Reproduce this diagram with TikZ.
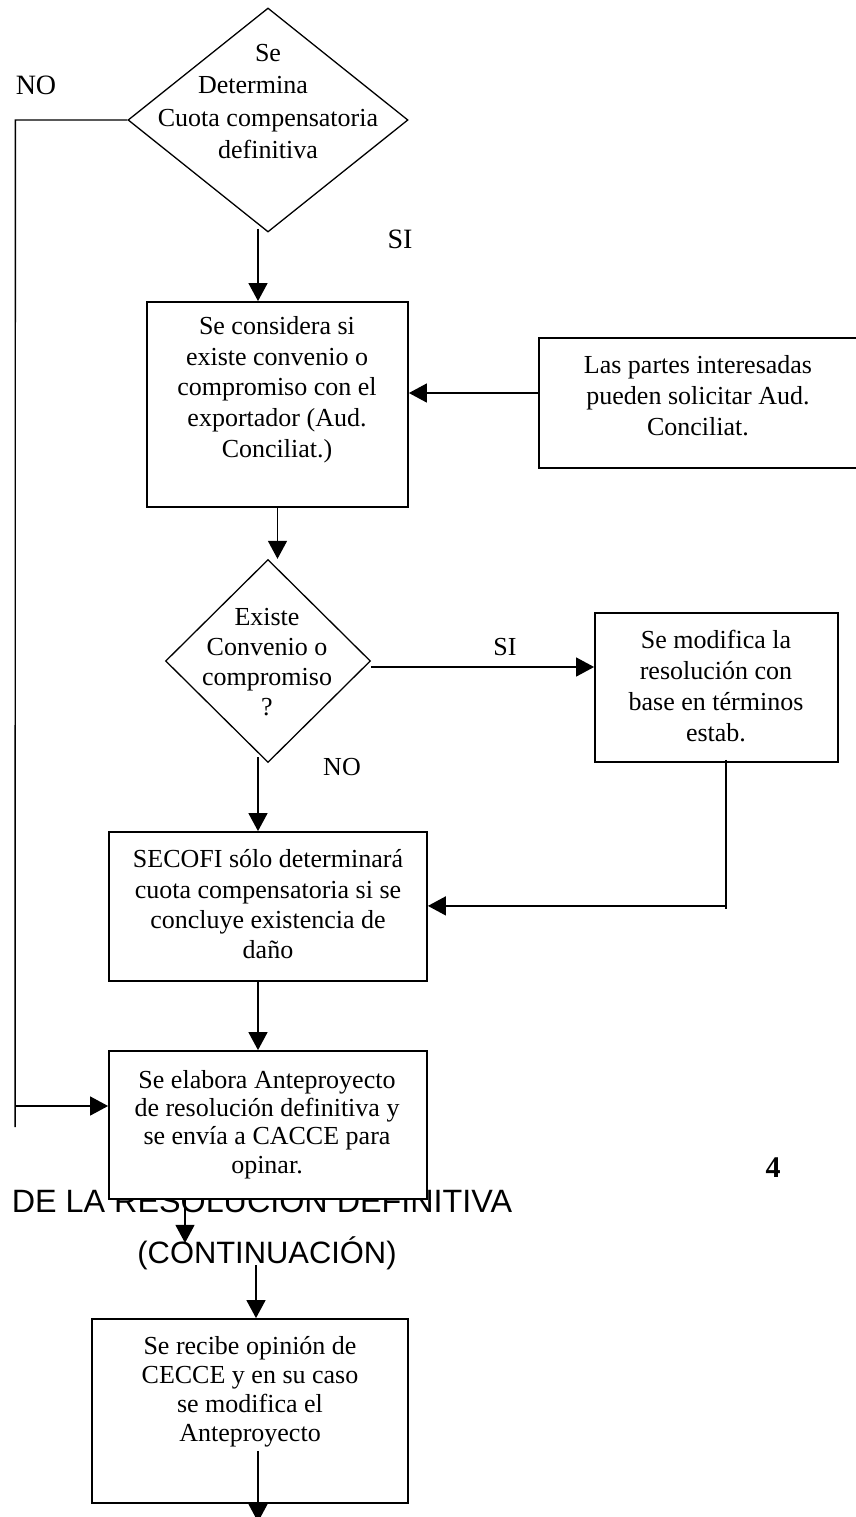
\documentclass[tikz,border=0pt]{standalone}
\usepackage{fontspec}
\setmainfont{Liberation Serif}
\newfontfamily\headfont{Liberation Sans}
\usetikzlibrary{arrows.meta,shapes.geometric,calc}
\begin{document}
\begin{tikzpicture}[x=1pt,y=-1pt,
  box/.style={draw,line width=1.8pt,inner sep=0pt,fill=white},
  decision/.style={draw,diamond,line width=1.3pt,inner sep=0pt},
  txt/.style={align=center,inner sep=0pt},
  lbl/.style={inner sep=0pt,anchor=base,font=\fontsize{26}{30}\selectfont},
  head/.style={inner sep=0pt,anchor=base},
  link/.style={line width=1.4pt},
  arr/.style={link,-{Triangle[length=18pt,width=19pt]}}]
\useasboundingbox (0,0) rectangle (855,1517);

% section heading, partly hidden under the box drawn above it
\node[head,font=\headfont\fontsize{32.3}{36}\selectfont] (h1) at (262,1212) {DE LA RESOLUCIÓN DEFINITIVA};
\node[head,font=\headfont\fontsize{30.9}{36}\selectfont] (h2) at (267,1263) {(CONTINUACIÓN)};

% shapes
\node[decision,minimum width=280pt,minimum height=224pt] (d1) at (268,120) {};
\node[box,minimum width=261pt,minimum height=205pt] (b1) at (277.5,404.5) {};
\node[box,minimum width=319pt,minimum height=130pt] (rb) at (698.5,403) {};
\node[decision,minimum width=205pt,minimum height=203pt] (d2) at (268,661) {};
\node[box,minimum width=243pt,minimum height=149pt] (mod) at (716.5,687.5) {};
\node[box,minimum width=318pt,minimum height=149pt] (sec) at (268,906.5) {};
\node[box,minimum width=318pt,minimum height=148pt] (ante) at (268,1125) {};
\node[box,minimum width=316pt,minimum height=184pt] (last) at (250,1411) {};

% texts
\node[txt,font=\fontsize{26}{32.3}\selectfont] (td1) at (268,101.5)
  {Se\\Determina\rule{30pt}{0pt}\\Cuota compensatoria\\definitiva};
\node[txt,font=\fontsize{26}{30.75}\selectfont] (tb1) at (277,389.5)
  {Se considera si\\existe convenio o\\compromiso con el\\exportador (Aud.\\Conciliat.)};
\node[txt,font=\fontsize{26}{31}\selectfont] (trb) at (698,396)
  {Las partes interesadas\\pueden solicitar Aud.\\Conciliat.};
\node[txt,font=\fontsize{26}{30}\selectfont] (td2) at (267,662)
  {Existe\\Convenio o\\compromiso\\?};
\node[txt,font=\fontsize{26}{30.7}\selectfont] (tmod) at (716,686)
  {Se modifica la\\resolución con\\base en términos\\estab.};
\node[txt,font=\fontsize{26}{30.3}\selectfont] (tsec) at (268,904.5)
  {SECOFI sólo determinará\\cuota compensatoria si se\\concluye existencia de\\daño};
\node[txt,font=\fontsize{26}{28.3}\selectfont] (tante) at (267,1124.5)
  {Se elabora Anteproyecto\\de resolución definitiva y\\se envía a CACCE para\\opinar.};
\node[txt,font=\fontsize{26}{29}\selectfont] (tlast) at (250,1391.5)
  {Se recibe opinión de\\CECCE y en su caso\\se modifica el\\Anteproyecto};

% labels
\node[lbl,font=\fontsize{28}{30}\selectfont] (no1) at (36,95) {NO};
\node[lbl,font=\fontsize{28}{30}\selectfont] (si1) at (400,248) {SI};
\node[lbl] (si2) at (505,655) {SI};
\node[lbl] (no2) at (342,775) {NO};
\node[lbl,font=\bfseries\fontsize{30}{34}\selectfont] (pg) at (773,1177) {4};

% helper points
\coordinate (noTop) at ($(d1.west)+(-112,0)$);
\coordinate (noJoin) at ($(ante.west)+(-93,-19)$);
\coordinate (noEnd) at ($(ante.west)+(-93,2)$);
\coordinate (siStart) at ($(d2.east)+(0,6)$);
\coordinate (modTurn) at ($(mod.south)+(9.5,143)$);
\coordinate (contIn) at ($(ante.south)+(-83,43)$);
\coordinate (contOut) at ($(h2.base)+(-11,2)$);
\coordinate (lastOut) at ($(last.south)+(8,18)$);

% connectors
\draw[link] (d1.west) -- (noTop) -- (noEnd);
\draw[arr] (noJoin) -- (noJoin -| ante.west);
\draw[arr] ($(d1.south)+(-10,-4)$) -- ($(b1.north)+(-19.5,0)$);
\draw[arr] ($(rb.west)+(0,-10)$) -- ($(b1.east)+(0,-11.5)$);
\draw[arr] (b1.south) -- (b1.south |- d2.north);
\draw[arr] (siStart) -- (siStart -| mod.west);
\draw[arr] ($(d2.south)+(-10,-6)$) -- ($(sec.north)+(-10,0)$);
\draw[link] ($(mod.south)+(9.5,-3)$) -- ($(modTurn)+(0,3)$);
\draw[arr] (modTurn) -- (modTurn -| sec.east);
\draw[arr] ($(sec.south)+(-10,0)$) -- ($(ante.north)+(-10,0)$);
\draw[arr] (ante.south -| contIn) -- (contIn);
\draw[arr] (contOut) -- (contOut |- last.north);
\draw[arr] ($(last.south)+(8,-53)$) -- (lastOut);
\end{tikzpicture}
\end{document}
